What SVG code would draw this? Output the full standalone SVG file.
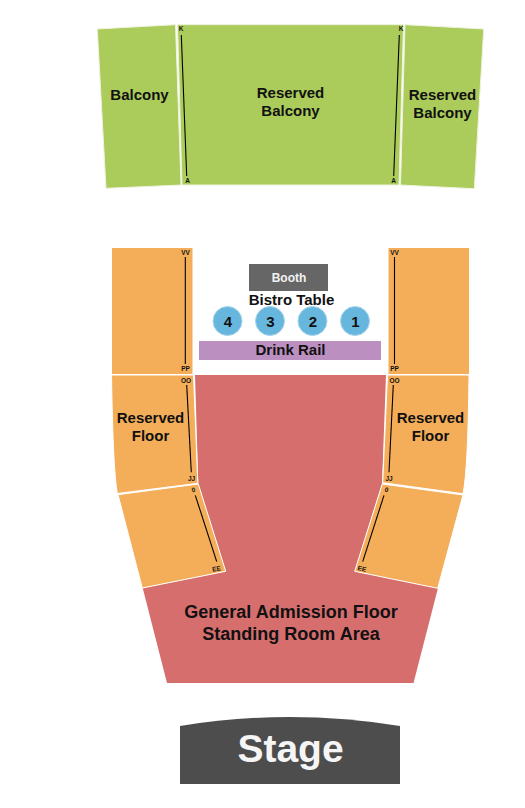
<svg xmlns="http://www.w3.org/2000/svg" width="525" height="808" viewBox="0 0 525 808">
<style>
text{font-family:"Liberation Sans",Arial,sans-serif;font-weight:bold;fill:#111;text-anchor:middle}
.g{fill:#abcb5b;stroke:#eef3dc;stroke-width:1}
.o{fill:#f4ae5a;stroke:#fff;stroke-width:1}
.r{fill:#d76e6e}
.c{fill:#67b6de;stroke:#a9d6ec;stroke-width:1}
.l{font-size:15px}
.s{font-size:6.500px}
.n{font-size:15px}
.a{stroke:#000;stroke-width:1.1;fill:none}
</style>
<rect width="525" height="808" fill="#fff"/>
<g id="balcony"><polygon class="g" points="97.3,29 175.5,24.7 181,185 106,188.3"/><text class="l" x="139.500" y="100">Balcony</text></g>
<g id="reserved-balcony-center"><polygon class="g" points="177.5,24.7 403.5,24.7 399,185 182,185"/><text class="l" x="290.500" y="98">Reserved</text><text class="l" x="290.500" y="116">Balcony</text><text class="s" x="181" y="31">K</text><text class="s" x="187.500" y="183">A</text><text class="s" x="401" y="31">K</text><text class="s" x="393.500" y="183">A</text></g>
<g id="reserved-balcony-right"><polygon class="g" points="405,24.7 483.7,29 474.300,188.700 400.500,185"/><text class="l" x="442.500" y="100">Reserved</text><text class="l" x="442.500" y="118">Balcony</text></g>
<g id="floor-upper-left"><rect class="o" x="111.500" y="247.500" width="81.500" height="127"/><text class="s" x="185.500" y="255">VV</text><text class="s" x="185.500" y="371">PP</text></g>
<g id="floor-upper-right"><rect class="o" x="388" y="247.500" width="81.500" height="127"/><text class="s" x="394.500" y="255">VV</text><text class="s" x="394.500" y="371">PP</text></g>
<g id="general-admission"><polygon class="r" points="195,375 386,375 382,484 354.700,571.300 438,588 413.500,683 167,683 142.700,588 225.700,571.300 198.300,484"/><text style="font-size:18px" x="291" y="618">General Admission Floor</text><text style="font-size:18px" x="291" y="639.500">Standing Room Area</text></g>
<g id="reserved-floor-left"><path class="o" d="M111.500,375 H193.500 L197.800,483.300 L117.300,493.500 Q113,470 111.500,375Z"/><text class="l" x="150.500" y="423">Reserved</text><text class="l" x="150.500" y="441">Floor</text><text class="s" x="186" y="383">OO</text><text class="s" x="191.500" y="481">JJ</text></g>
<g id="floor-lower-left"><polygon class="o" points="198.300,484 225.700,571.300 142.300,588 118,494.700"/><text class="s" x="193.500" y="492" transform="rotate(-15 193.500 490)">0</text><text class="s" x="216.500" y="571" transform="rotate(-12 216.500 569)">EE</text></g>
<g id="reserved-floor-right"><path class="o" d="M387.500,375 H469 Q468,470 463,493.700 L382.700,482.700Z"/><text class="l" x="430.500" y="423">Reserved</text><text class="l" x="430.500" y="441">Floor</text><text class="s" x="394.500" y="383">OO</text><text class="s" x="389" y="481">JJ</text></g>
<g id="floor-lower-right"><polygon class="o" points="382.300,484 463,495 437.700,588.300 354.700,571.300"/><text class="s" x="386.500" y="492" transform="rotate(15 386.500 490)">0</text><text class="s" x="362" y="571" transform="rotate(12 362 569)">EE</text></g>
<g id="booth"><rect x="249" y="264" width="79" height="27" fill="#666"/><text x="289" y="281.500" style="font-size:12px;fill:#f2f2f2">Booth</text></g>
<g id="bistro-label"><text class="l" x="291.500" y="305">Bistro Table</text></g>
<g id="table-4"><circle class="c" cx="227.500" cy="321" r="14.500"/><text class="n" x="228" y="326.500">4</text></g>
<g id="table-3"><circle class="c" cx="270" cy="321" r="14.500"/><text class="n" x="270.500" y="326.500">3</text></g>
<g id="table-2"><circle class="c" cx="312.500" cy="321" r="14.500"/><text class="n" x="313" y="326.500">2</text></g>
<g id="table-1"><circle class="c" cx="355" cy="321" r="14.500"/><text class="n" x="355.500" y="326.500">1</text></g>
<g id="drink-rail"><rect x="199" y="341" width="182" height="19" fill="#bb8fc0"/><text class="l" x="290.500" y="355">Drink Rail</text></g>
<g id="stage"><path d="M180,726 Q290,708 400,726 V784 H180Z" fill="#4d4d4d"/><text x="290.500" y="762" style="font-size:39px;fill:#f5f5f5">Stage</text></g>
<g id="connectors">
<line class="a" x1="181.300" y1="35" x2="186.700" y2="176"/>
<line class="a" x1="399.300" y1="35" x2="393.700" y2="176"/>
<line class="a" x1="185.300" y1="257" x2="185.300" y2="364"/>
<line class="a" x1="394.500" y1="257" x2="394.500" y2="364"/>
<line class="a" x1="186.700" y1="385" x2="191.300" y2="472.300"/>
<line class="a" x1="393.300" y1="385" x2="389" y2="472.300"/>
<line class="a" x1="195.300" y1="495.300" x2="216.700" y2="561.700"/>
<line class="a" x1="384" y1="495.300" x2="362.700" y2="561.700"/>
</g>
</svg>
